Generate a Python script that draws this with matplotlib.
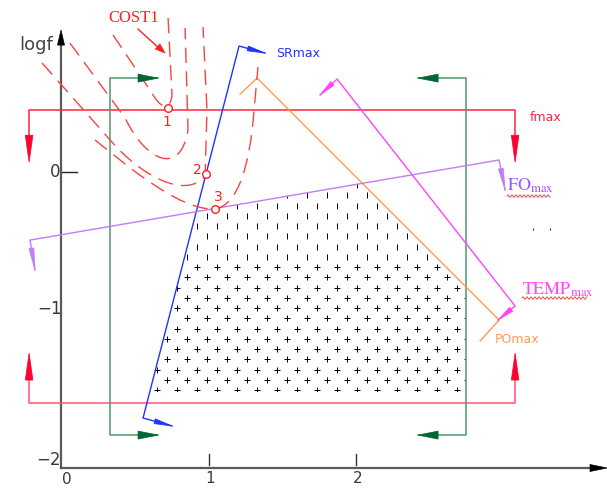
import numpy as np
import matplotlib
matplotlib.use('Agg')
import matplotlib.pyplot as plt
from matplotlib.path import Path
from matplotlib.patches import PathPatch, Polygon

plt.rcParams['mathtext.fontset'] = 'stix'

# ---------------- data (x units, logf units) ----------------
x_range = (-0.422, 3.707)
y_range = (-2.257, 1.229)

yaxis_x = -0.007
xaxis_y = -2.114
x_axis_end = 3.707
y_axis_end = 1.014
x_ticks = [1, 2]
x_tick_labels = ['1', '2']
y_tick_labels = ['0', '\u22121', '\u22122']
y_tick_values = [0, -1, -2]

# fmax limits
fmax_x = [-0.224, 3.082]
fmax_top = 0.443
fmax_bottom = -1.65
fmax_top_tip = 0.07
fmax_bottom_tip = -1.293

# green frequency-window limits
green_x = [0.327, 2.748]
green_y = [0.671, -1.879]
green_left_tip = 0.653
green_right_tip = 2.422

# constraint polylines
sr_x = [0.748, 0.551, 1.204, 1.381]
sr_y = [-1.814, -1.757, 0.900, 0.850]
po_x = [1.211, 1.327, 2.973, 2.844]
po_y = [0.557, 0.671, -1.057, -1.207]
temp_x = [1.755, 1.871, 3.082, 2.966]
temp_y = [0.550, 0.664, -0.957, -1.057]
fo_x = [-0.184, -0.218, 2.973, 3.014]
fo_y = [-0.700, -0.486, 0.086, -0.129]

hatch_bottom = -1.557

# COST1 iso-cost curves (Bezier control points)
MO, LI, C4 = Path.MOVETO, Path.LINETO, Path.CURVE4
cost_A = [(0.347, 0.979), (0.612, 0.564), (0.667, 0.457), (0.735, 0.429), (0.748, 0.55), (0.721, 1.107)]
cost_A_codes = [MO, LI, C4, C4, C4, LI]
cost_B = [(0.054, 0.921), (0.429, 0.386), (0.565, 0.086), (0.803, -0.043), (0.857, 0.30), (0.837, 1.029)]
cost_B_codes = [MO, LI, C4, C4, C4, LI]
cost_C = [(-0.136, 0.779), (0.327, 0.229), (0.531, -0.021), (0.837, -0.20), (0.973, -0.029),
          (0.986, 0.443), (0.959, 1.036)]
cost_C_codes = [MO, LI, C4, C4, C4, LI, LI]
cost_D = [(0.224, 0.229), (0.463, 0.029), (0.667, -0.129), (0.871, -0.271), (1.041, -0.264),
          (1.197, -0.236), (1.279, 0.05), (1.306, 0.443), (1.333, 0.75)]
cost_D_codes = [MO, LI, C4, C4, C4, C4, C4, C4, LI]

opt_x = [0.721, 0.980, 1.041]
opt_y = [0.457, -0.014, -0.264]
opt_labels = ['1', '2', '3']

# ---------------- figure ----------------
W, H = 607, 488
fig = plt.figure(figsize=(W / 100, H / 100), dpi=100)
ax = fig.add_axes([0, 0, 1, 1])
ax.set_xlim(*x_range)
ax.set_ylim(*y_range)
ax.axis('off')
sx = W / (x_range[1] - x_range[0])
sy = H / (y_range[1] - y_range[0])


def head(tip, back, length_px, half_px, color, z=5):
    dx = (back[0] - tip[0]) * sx
    dy = (back[1] - tip[1]) * sy
    n = np.hypot(dx, dy)
    ux, uy = dx / n, dy / n
    bx, by = ux * length_px, uy * length_px
    px, py = -uy * half_px, ux * half_px
    pts = [(tip[0], tip[1]),
           (tip[0] + (bx + px) / sx, tip[1] + (by + py) / sy),
           (tip[0] + (bx - px) / sx, tip[1] + (by - py) / sy)]
    ax.add_patch(Polygon(pts, closed=True, facecolor=color, edgecolor=color, lw=0.5, zorder=z))


# axes
tick_col = '#3a3a3a'
ax.plot([yaxis_x, yaxis_x], [xaxis_y, y_axis_end - 0.05], color='#5a5a5a', lw=1.6, zorder=3)
ax.plot([yaxis_x, x_axis_end - 0.05], [xaxis_y, xaxis_y], color='#5a5a5a', lw=1.6, zorder=3)
head((yaxis_x, y_axis_end), (yaxis_x, 0), 15, 3.5, 'black')
head((x_axis_end, xaxis_y), (0, xaxis_y), 17, 3.5, 'black')
for xt, lab in zip(x_ticks, x_tick_labels):
    ax.plot([xt, xt], [xaxis_y + 0.02, xaxis_y + 0.1], color='#333333', lw=1.0)
    ax.text(xt + 0.01, xaxis_y - 0.072, lab, ha='center', va='center', fontsize=11, color=tick_col)
ax.text(0.034, xaxis_y - 0.08, '0', ha='center', va='center', fontsize=11, color=tick_col)
ax.plot([yaxis_x, 0.102], [0, 0], color='#222222', lw=1.0)
ax.text(-0.05, 0.0, y_tick_labels[0], ha='center', va='center', fontsize=12, color=tick_col)
ax.text(-0.085, y_tick_values[1] + 0.02, y_tick_labels[1], ha='center', va='center', fontsize=12, color=tick_col)
ax.text(-0.095, y_tick_values[2] - 0.055, y_tick_labels[2], ha='center', va='center', fontsize=12, color=tick_col)
ax.text(-0.177, 0.907, 'logf', ha='center', va='center', fontsize=13, color='#444444')

# feasible region with + marks
def intersect(p1, p2, p3, p4):
    x1, y1 = p1; x2, y2 = p2; x3, y3 = p3; x4, y4 = p4
    d = (x1 - x2) * (y3 - y4) - (y1 - y2) * (x3 - x4)
    t = ((x1 - x3) * (y3 - y4) - (y1 - y3) * (x3 - x4)) / d
    return (x1 + t * (x2 - x1), y1 + t * (y2 - y1))

sr_a, sr_b = (sr_x[1], sr_y[1]), (sr_x[2], sr_y[2])
fo_a, fo_b = (fo_x[1], fo_y[1]), (fo_x[2], fo_y[2])
po_a, po_b = (po_x[1], po_y[1]), (po_x[2], po_y[2])
gr_a, gr_b = (green_x[1], 0), (green_x[1], 1)
bt_a, bt_b = (0, hatch_bottom - 0.015), (1, hatch_bottom - 0.015)
region = [intersect(sr_a, sr_b, bt_a, bt_b), intersect(sr_a, sr_b, fo_a, fo_b),
          intersect(fo_a, fo_b, po_a, po_b), intersect(po_a, po_b, gr_a, gr_b),
          intersect(gr_a, gr_b, bt_a, bt_b)]
region_path = Path(region + [region[0]], closed=True)
clip_patch = Polygon(region, closed=True, facecolor='none', edgecolor='none', transform=ax.transData)
ax.add_patch(clip_patch)

row_step = 10.25 / sy
col_step = 20.0 / sx
plus_x, plus_y, bar_x, bar_y = [], [], [], []
for k in range(30):
    yy = hatch_bottom + k * row_step
    off = 0.0 if k % 2 == 0 else col_step / 2
    for j in range(-10, 40):
        xx = 0.646 + off + (j - 5) * col_step
        inside = region_path.contains_point((xx, yy), radius=-0.02)
        if inside:
            if yy > -0.64:
                bar_x.append(xx); bar_y.append(yy)
            else:
                plus_x.append(xx); plus_y.append(yy)
pm = ax.plot(plus_x, plus_y, ls='none', marker='+', ms=4.8, mew=0.7, color='black', zorder=2)[0]
bm = ax.plot(bar_x, bar_y, ls='none', marker='|', ms=4.5, mew=0.7, color='black', zorder=2)[0]
pm.set_clip_path(clip_patch)
bm.set_clip_path(clip_patch)

# fmax lines
red_top, red_bot, red_head = '#ff2244', '#ff5577', '#ff0033'
ax.plot([fmax_x[0], fmax_x[0], fmax_x[1], fmax_x[1]],
        [fmax_top - 0.2, fmax_top, fmax_top, fmax_top - 0.2], color=red_top, lw=1.1, zorder=4)
ax.plot([fmax_x[0], fmax_x[0], fmax_x[1], fmax_x[1]],
        [fmax_bottom + 0.2, fmax_bottom, fmax_bottom, fmax_bottom + 0.2], color=red_bot, lw=1.1, zorder=4)
for xx in fmax_x:
    head((xx, fmax_top_tip), (xx, fmax_top), 27, 3.8, red_head)
    head((xx, fmax_bottom_tip), (xx, fmax_bottom), 27, 3.8, red_head)
ax.text(3.184, 0.393, 'fmax', ha='left', va='center', fontsize=9, color='#ff2244')

# green lines
g_line, g_head = '#4d9a6e', '#006633'
for xx, tip in [(green_x[0], green_left_tip), (green_x[1], green_right_tip)]:
    ax.plot([tip, xx, xx, tip], [green_y[0], green_y[0], green_y[1], green_y[1]], color=g_line, lw=1.1, zorder=4)
    head((tip, green_y[0]), (xx, green_y[0]), 20, 4, g_head)
    head((tip, green_y[1]), (xx, green_y[1]), 20, 4, g_head)

# SRmax
blue = '#2233ff'
ax.plot(sr_x, sr_y, color=blue, lw=1.0, zorder=4)
head((sr_x[3], sr_y[3]), (sr_x[2], sr_y[2]), 18, 2.5, blue)
head((sr_x[0], sr_y[0]), (sr_x[1], sr_y[1]), 18, 2.5, blue)
ax.text(1.456, 0.85, 'SRmax', ha='left', va='center', fontsize=9, color=blue)

# POmax
orange = '#ff9a55'
ax.plot(po_x, po_y, color=orange, lw=1.0, zorder=4)
ax.text(2.946, -1.193, 'POmax', ha='left', va='center', fontsize=9, color=orange)

# TEMPmax
mag = '#ff44ff'
ax.plot(temp_x, temp_y, color=mag, lw=1.0, zorder=4)
head((temp_x[0], temp_y[0]), (temp_x[1], temp_y[1]), 17, 2.5, mag)
head((temp_x[3], temp_y[3]), (temp_x[2], temp_y[2]), 17, 2.5, mag)
ax.text(3.129, -0.843, r'$\mathrm{TEMP}_{\mathrm{max}}$', ha='left', va='center', fontsize=13, color=mag)

# FOmax
vio = '#c27ff2'
ax.plot(fo_x, fo_y, color=vio, lw=1.0, zorder=4)
head((fo_x[0], fo_y[0]), (fo_x[1], fo_y[1]), 22, 2.5, vio)
head((fo_x[3], fo_y[3]), (fo_x[2], fo_y[2]), 22, 2.5, vio)
ax.text(3.027, -0.10, r'$\mathrm{FO}_{\mathrm{max}}$', ha='left', va='center', fontsize=13, color='#9955ff')

# spell-check squiggles
def squiggle(x0, x1, y):
    xs = np.linspace(x0, x1, 200)
    ax.plot(xs, y + 1.2 / sy * np.sin((xs - x0) * sx * 2 * np.pi / 4), color='#ee3333', lw=0.6, zorder=4)
squiggle(3.027, 3.32, -0.172)
squiggle(3.129, 3.571, -0.90)

# tiny marks
ax.plot([3.204, 3.32], [-0.407, -0.407], ls='none', marker='|', ms=2, mew=0.8, color='#333333')

# COST1 curves
cost_col = '#ff4040'
for pts, codes in [(cost_A, cost_A_codes), (cost_B, cost_B_codes), (cost_C, cost_C_codes), (cost_D, cost_D_codes)]:
    ax.add_patch(PathPatch(Path(pts, codes), fill=False, edgecolor=cost_col, lw=1.0,
                           linestyle=(0, (11, 6)), zorder=4))
ax.plot(opt_x, opt_y, ls='none', marker='o', ms=5.5, mfc='white', mec='#ff2020', mew=1.0, zorder=6)
label_off = [(-0.007, -0.1), (-0.062, 0.03), (0.02, 0.085)]
for x, y, lab, (dx, dy) in zip(opt_x, opt_y, opt_labels, label_off):
    ax.text(x + dx, y + dy, lab, ha='center', va='center', fontsize=10, color='#ff2020', zorder=6)

ax.text(0.49, 1.10, 'COST1', ha='center', va='center', fontsize=12, color='#ff2020', family='Liberation Serif')
ax.plot([0.517, 0.68], [1.021, 0.866], color='#ff2020', lw=1.0)
head((0.701, 0.85), (0.517, 1.021), 10, 3.5, '#ff2020')

fig.savefig('out.png', dpi=100)
